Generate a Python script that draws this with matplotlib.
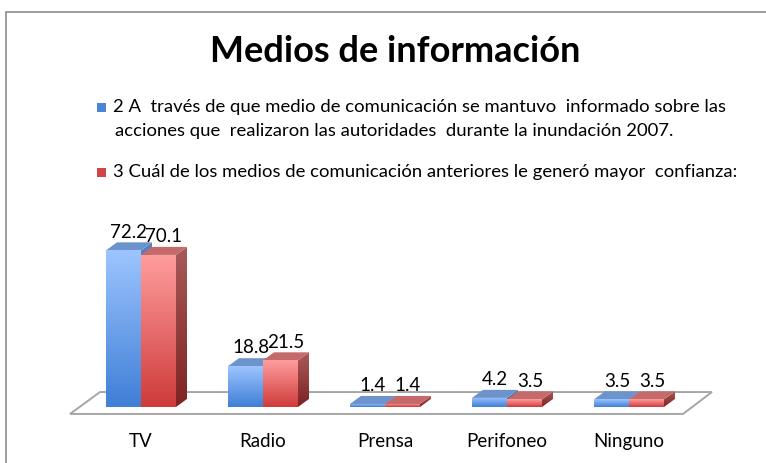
import numpy as np
import matplotlib.pyplot as plt
from matplotlib.colors import LinearSegmentedColormap
from matplotlib.patches import Polygon, Rectangle

categorias = ["TV", "Radio", "Prensa", "Perifoneo", "Ninguno"]
serie_2 = [72.2, 18.8, 1.4, 4.2, 3.5]
serie_3 = [70.1, 21.5, 1.4, 3.5, 3.5]
rotulo_2 = ("2 A  través de que medio de comunicación se mantuvo  informado sobre las\n"
            "acciones que  realizaron las autoridades  durante la inundación 2007.")
rotulo_3 = "3 Cuál de los medios de comunicación anteriores le generó mayor  confianza:"
titulo = "Medios de información"

FONTE = ["Lato", "DejaVu Sans"]
largura = 0.287   # largura de cada barra (unidades de categoria)
dx, dy = 0.09, 3.7  # profundidade do efeito 3D

cores_azul = {"frente": ("#3f7fd6", "#9dc4ff"), "topo": "#6d93cc", "lado": ("#2e5fa8", "#5a80bd")}
cores_verm = {"frente": ("#cf3b3b", "#ff9d9d"), "topo": "#c46a6a", "lado": ("#7f2222", "#a85a5a")}

fig = plt.figure(figsize=(7.66, 4.63), dpi=100)
ax = fig.add_axes([60 / 766, 33 / 463, 680 / 766, 215 / 463])


def preencher_gradiente(verts, cor_baixo, cor_cima, zorder):
    verts = np.array(verts)
    cmap = LinearSegmentedColormap.from_list("g", [cor_baixo, cor_cima])
    poly = Polygon(verts, closed=True, facecolor="none", edgecolor="none")
    ax.add_patch(poly)
    grad = np.linspace(0, 1, 100).reshape(-1, 1)
    im = ax.imshow(grad, cmap=cmap, origin="lower", aspect="auto", zorder=zorder,
                   extent=[verts[:, 0].min(), verts[:, 0].max(),
                           verts[:, 1].min(), verts[:, 1].max()])
    im.set_clip_path(poly)


def desenhar_barra(x0, v, cores, z):
    x1 = x0 + largura
    # lado
    preencher_gradiente([(x1, 0), (x1 + dx, dy), (x1 + dx, v + dy), (x1, v)],
                        cores["lado"][0], cores["lado"][1], z)
    # topo
    ax.add_patch(Polygon([(x0, v), (x1, v), (x1 + dx, v + dy), (x0 + dx, v + dy)],
                         closed=True, facecolor=cores["topo"], edgecolor="none", zorder=z))
    # frente
    preencher_gradiente([(x0, 0), (x1, 0), (x1, v), (x0, v)],
                        cores["frente"][0], cores["frente"][1], z + 0.1)
    ax.text(x0 + largura / 2 + dx / 2, v + dy + 0.8, f"{v:.1f}", ha="center", va="bottom",
            fontsize=13.5, family=FONTE, zorder=10)


# piso em perspectiva
n = len(categorias)
piso = Polygon([(-0.582, -3.2), (n - 1 + 0.443, -3.2), (n - 1 + 0.68, 6.9), (-0.336, 6.9)],
               closed=True, facecolor="white", edgecolor="#a6a6a6", linewidth=1.4, zorder=1)
ax.add_patch(piso)

for i in range(n):
    desenhar_barra(i - largura, serie_2[i], cores_azul, 2 + i)
    desenhar_barra(i, serie_3[i], cores_verm, 2.5 + i)
    ax.text(i, -16.1, categorias[i], ha="center", va="center", fontsize=13.5, family=FONTE)

ax.set_xlim(-0.664, 4.91)
ax.set_ylim(-10.6, 88.5)
ax.axis("off")

# moldura do gráfico
fig.patches.append(Rectangle((6 / 766, -0.2), 2, 1.2 - 12 / 463, transform=fig.transFigure,
                             facecolor="none", edgecolor="#8c8c8c", linewidth=1.2))

fig.text(395 / 766, 1 - 52 / 463, titulo, ha="center", va="center", fontsize=26,
         fontweight="bold", family=FONTE)

# legenda
fig.patches.append(Rectangle((97 / 766, 1 - 112 / 463), 9 / 766, 9 / 463, transform=fig.transFigure,
                             facecolor="#4a86d8", edgecolor="none"))
linhas = rotulo_2.split("\n")
fig.text(113 / 766, 1 - 107 / 463, linhas[0], ha="left", va="center", fontsize=13.3, family=FONTE)
fig.text(115 / 766, 1 - 131 / 463, linhas[1], ha="left", va="center", fontsize=13.3, family=FONTE)
fig.patches.append(Rectangle((97 / 766, 1 - 177 / 463), 9 / 766, 9 / 463, transform=fig.transFigure,
                             facecolor="#d04545", edgecolor="none"))
fig.text(113 / 766, 1 - 172 / 463, rotulo_3, ha="left", va="center", fontsize=13.3, family=FONTE)

fig.savefig("out.png", dpi=100)
